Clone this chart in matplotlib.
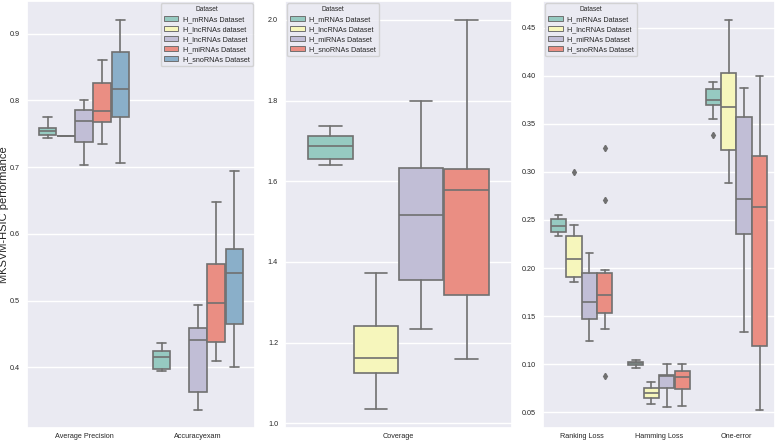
import matplotlib
matplotlib.use('Agg')
import matplotlib.pyplot as plt
import seaborn as sns

sns.set_theme(style='darkgrid')
plt.rcParams['font.family'] = ['Liberation Sans', 'DejaVu Sans']

# palette (Set3, seaborn-style desaturated)
base = sns.color_palette('Set3', 5)
colors = [sns.desaturate(c, 0.75) for c in base]
line_gray = '#707070'

# ---- panel 1 data: box stats per dataset (whislo, q1, med, q3, whishi)
p1_metrics = ['Average Precision', 'Accuracyexam']
p1_names = ['H_mRNAs Dataset', 'H_lncRNAs dataset', 'H_lncRNAs Dataset',
            'H_miRNAs Dataset', 'H_snoRNAs Dataset']
p1_stats = {
    'Average Precision': [
        (0.744, 0.748, 0.754, 0.759, 0.775),
        (0.746, 0.746, 0.746, 0.746, 0.746),
        (0.703, 0.737, 0.769, 0.786, 0.801),
        (0.735, 0.767, 0.784, 0.826, 0.861),
        (0.706, 0.775, 0.817, 0.873, 0.920),
    ],
    'Accuracyexam': [
        (0.394, 0.398, 0.415, 0.424, 0.436),
        None,
        (0.336, 0.363, 0.441, 0.459, 0.494),
        (0.410, 0.438, 0.496, 0.555, 0.648),
        (0.400, 0.465, 0.541, 0.578, 0.694),
    ],
}
p1_fliers = {}

# ---- panel 2 data
p2_metrics = ['Coverage']
p2_names = ['H_mRNAs Dataset', 'H_lncRNAs Dataset', 'H_miRNAs Dataset', 'H_snoRNAs Dataset']
p2_stats = {
    'Coverage': [
        (1.641, 1.655, 1.687, 1.713, 1.737),
        (1.035, 1.124, 1.161, 1.242, 1.372),
        (1.233, 1.355, 1.516, 1.633, 1.800),
        (1.158, 1.317, 1.579, 1.630, 2.000),
    ],
}
p2_fliers = {}

# ---- panel 3 data
p3_metrics = ['Ranking Loss', 'Hamming Loss', 'One-error']
p3_names = ['H_mRNAs Dataset', 'H_lncRNAs Dataset', 'H_miRNAs Dataset', 'H_snoRNAs Dataset']
p3_stats = {
    'Ranking Loss': [
        (0.233, 0.237, 0.244, 0.251, 0.2555),
        (0.186, 0.191, 0.209, 0.233, 0.2445),
        (0.124, 0.147, 0.165, 0.195, 0.216),
        (0.1364, 0.1536, 0.1716, 0.195, 0.1975),
    ],
    'Hamming Loss': [
        (0.0966, 0.099, 0.101, 0.102, 0.1042),
        (0.0586, 0.0652, 0.0704, 0.0749, 0.0814),
        (0.0555, 0.0756, 0.088, 0.0894, 0.100),
        (0.0569, 0.0745, 0.0863, 0.0935, 0.100),
    ],
    'One-error': [
        (0.355, 0.370, 0.3747, 0.386, 0.3937),
        (0.2883, 0.3225, 0.367, 0.403, 0.458),
        (0.1336, 0.2358, 0.2714, 0.357, 0.387),
        (0.0528, 0.1187, 0.2635, 0.316, 0.400),
    ],
}
p3_fliers = {
    ('Ranking Loss', 1): [0.300],
    ('Ranking Loss', 3): [0.325, 0.271, 0.088],
    ('One-error', 0): [0.3384],
}


def draw_panel(ax, metrics, names, stats, fliers, cols):
    n = len(names)
    w = 0.8 / n
    for i, m in enumerate(metrics):
        for j in range(n):
            s = stats[m][j]
            if s is None:
                continue
            pos = i - 0.4 + w * (j + 0.5)
            d = dict(whislo=s[0], q1=s[1], med=s[2], q3=s[3], whishi=s[4],
                     fliers=fliers.get((m, j), []))
            ax.bxp([d], positions=[pos], widths=w * 0.98, patch_artist=True,
                   showfliers=True, manage_ticks=False,
                   boxprops=dict(facecolor=cols[j], edgecolor=line_gray, linewidth=1.2),
                   medianprops=dict(color=line_gray, linewidth=1.2),
                   whiskerprops=dict(color=line_gray, linewidth=1.2),
                   capprops=dict(color=line_gray, linewidth=1.2),
                   flierprops=dict(marker='d', markersize=3.2, markerfacecolor=line_gray,
                                   markeredgecolor=line_gray))
    ax.set_xlim(-0.5, len(metrics) - 0.5)
    ax.set_xticks(range(len(metrics)))
    ax.set_xticklabels(metrics, fontsize=5.2)
    ax.tick_params(axis='y', labelsize=5.2, length=0, pad=5)
    ax.tick_params(axis='x', length=0, pad=3.5)
    ax.grid(axis='x', visible=False)
    handles = [plt.Rectangle((0, 0), 1, 1, facecolor=cols[j], edgecolor=line_gray, linewidth=0.7)
               for j in range(n)]
    return handles


def add_legend(ax, handles, names, loc):
    leg = ax.legend(handles, names, title='Dataset', loc=loc, fontsize=5.2,
                    title_fontsize=4.8, borderaxespad=0.3, handlelength=2.0,
                    handleheight=0.6, labelspacing=0.4, borderpad=0.45,
                    handletextpad=0.6)
    return leg


fig = plt.figure(figsize=(7.77, 4.42), dpi=100)
W, H = 777, 442
ax1 = fig.add_axes([27 / W, 14 / H, 228 / W, 427 / H])
ax2 = fig.add_axes([285 / W, 14 / H, 227 / W, 427 / H])
ax3 = fig.add_axes([543 / W, 14 / H, 232 / W, 427 / H])

h1 = draw_panel(ax1, p1_metrics, p1_names, p1_stats, p1_fliers, colors)
ax1.set_ylim(0.309, 0.949)
ax1.set_yticks([0.4, 0.5, 0.6, 0.7, 0.8, 0.9])
ax1.set_ylabel('MKSVM-HSIC performance', fontsize=8)
ax1.yaxis.set_label_coords(-0.08, 0.5)
add_legend(ax1, h1, p1_names, 'upper right')

h2 = draw_panel(ax2, p2_metrics, p2_names, p2_stats, p2_fliers, colors[:4])
ax2.set_ylim(0.988, 2.047)
ax2.set_yticks([1.0, 1.2, 1.4, 1.6, 1.8, 2.0])
add_legend(ax2, h2, p2_names, 'upper left')

h3 = draw_panel(ax3, p3_metrics, p3_names, p3_stats, p3_fliers, colors[:4])
ax3.set_ylim(0.0338, 0.4776)
ax3.set_yticks([0.05, 0.10, 0.15, 0.20, 0.25, 0.30, 0.35, 0.40, 0.45])
ax3.set_yticklabels(['0.05', '0.10', '0.15', '0.20', '0.25', '0.30', '0.35', '0.40', '0.45'])
add_legend(ax3, h3, p3_names, 'upper left')

fig.savefig('out.png', dpi=100)
